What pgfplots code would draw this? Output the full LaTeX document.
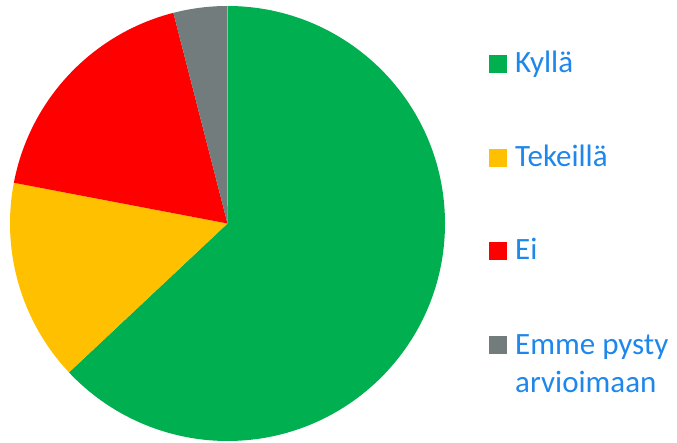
\documentclass[border=0pt]{standalone}
\usepackage{pgfplots}
\pgfplotsset{compat=1.18}
\usepackage{pgfplotstable}
\usepackage{fontspec}
\setmainfont{Carlito}
\definecolor{kgreen}{RGB}{0,176,80}
\definecolor{kyellow}{RGB}{255,192,0}
\definecolor{kred}{RGB}{255,0,0}
\definecolor{kgray}{RGB}{114,124,124}
\definecolor{ktext}{RGB}{30,135,235}
\pgfplotstableread{
value
63
15
18
4
}\piedata
\begin{document}
\begin{tikzpicture}[x=1pt,y=1pt]
\useasboundingbox (0,0) rectangle (677,443);
\pgfplotstablegetelem{0}{value}\of\piedata \let\vA\pgfplotsretval
\pgfplotstablegetelem{1}{value}\of\piedata \let\vB\pgfplotsretval
\pgfplotstablegetelem{2}{value}\of\piedata \let\vC\pgfplotsretval
\pgfplotstablegetelem{3}{value}\of\piedata \let\vD\pgfplotsretval
\pgfmathsetmacro\tot{\vA+\vB+\vC+\vD}
\pgfmathsetmacro\aA{90-\vA/\tot*360}
\pgfmathsetmacro\aB{\aA-\vB/\tot*360}
\pgfmathsetmacro\aC{\aB-\vC/\tot*360}
\pgfmathsetmacro\aD{\aC-\vD/\tot*360}
\begin{axis}[
  at={(227.5pt,219.5pt)}, anchor=center,
  width=435pt, height=435pt, scale only axis,
  xmin=-1, xmax=1, ymin=-1, ymax=1,
  hide axis, clip=false]
\fill[kgreen]  (axis cs:0,0) -- ++(90:217.5pt)   arc[start angle=90,   end angle=\aA, radius=217.5pt] -- cycle;
\fill[kyellow] (axis cs:0,0) -- ++(\aA:217.5pt)  arc[start angle=\aA,  end angle=\aB, radius=217.5pt] -- cycle;
\fill[kred]    (axis cs:0,0) -- ++(\aB:217.5pt)  arc[start angle=\aB,  end angle=\aC, radius=217.5pt] -- cycle;
\fill[kgray]   (axis cs:0,0) -- ++(\aC:217.5pt)  arc[start angle=\aC,  end angle=\aD, radius=217.5pt] -- cycle;
\end{axis}
% legend
\fill[kgreen]  (489,443-73)  rectangle ++(18,17.5);
\fill[kyellow] (489,443-167) rectangle ++(18,17.5);
\fill[kred]    (489,443-260) rectangle ++(18,17.5);
\fill[kgray]   (489,443-354) rectangle ++(18,17.5);
\begin{scope}[every node/.style={anchor=base west, inner sep=0pt, text=ktext, font=\fontsize{31}{38}\selectfont}]
\node at (515,443-73) {Kyllä};
\node at (515,443-167) {Tekeillä};
\node at (515,443-260) {Ei};
\node at (515,443-355) {Emme pysty};
\node at (515,443-393) {arvioimaan};
\end{scope}
\end{tikzpicture}
\end{document}
